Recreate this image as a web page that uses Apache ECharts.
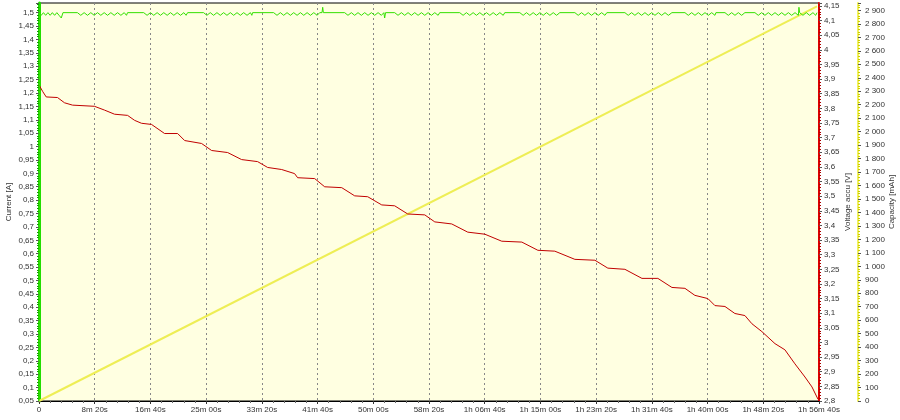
<!DOCTYPE html>
<html>
<head>
<meta charset="utf-8">
<script src="https://cdn.jsdelivr.net/npm/echarts@6/dist/echarts.min.js"></script>
<style>
html,body{margin:0;padding:0;background:#fff;}
#chart{width:900px;height:420px;}
</style>
</head>
<body>
<div id="chart"></div>
<script>
// ---- Data (time in seconds) ----
const xTickLabels = ["0","8m 20s","16m 40s","25m 00s","33m 20s","41m 40s","50m 00s","58m 20s",
  "1h 06m 40s","1h 15m 00s","1h 23m 20s","1h 31m 40s","1h 40m 00s","1h 48m 20s","1h 56m 40s"];

// Voltage accu [V]
const voltTime = [0,34,65,166,229,301,498,588,678,795,858,920,1010,1127,1244,1307,1459,1549,1693,1818,1962,2052,2178,2294,2321,2474,2564,2717,2833,2950,3076,3192,3309,3462,3552,3704,3848,4001,4153,4333,4477,4629,4809,4989,5105,5258,5411,5554,5680,5797,5886,6003,6066,6156,6245,6335,6398,6488,6605,6694,6784,6874,6937,6991];
const voltValue = [3.880,3.857,3.839,3.837,3.819,3.811,3.807,3.794,3.780,3.776,3.759,3.749,3.745,3.714,3.714,3.690,3.680,3.656,3.649,3.625,3.618,3.598,3.591,3.577,3.563,3.560,3.532,3.529,3.501,3.498,3.470,3.467,3.439,3.436,3.412,3.405,3.377,3.370,3.346,3.343,3.315,3.312,3.284,3.281,3.254,3.250,3.219,3.219,3.188,3.185,3.161,3.150,3.126,3.123,3.099,3.092,3.064,3.037,2.996,2.975,2.927,2.882,2.848,2.806];

// Capacity [mAh]
const capTime = [0, 6982];
const capValue = [0, 2930];

// Current [A] as [time, value]
const currentData = [
 [0,0.05],[4,1.5],
 [20,1.49],[40,1.5],[60,1.49],[80,1.5],[100,1.49],[120,1.5],[140,1.49],[160,1.5],[180,1.49],[200,1.48],[215,1.5],
 [345,1.5],
 [375,1.49],[405,1.5],[435,1.49],[465,1.5],[495,1.49],[525,1.5],[555,1.49],[585,1.5],[615,1.49],[645,1.5],[675,1.49],[705,1.5],[735,1.49],[765,1.5],[785,1.49],[795,1.5],
 [940,1.5],
 [970,1.49],[1000,1.5],[1030,1.49],[1060,1.5],[1090,1.49],[1120,1.5],[1150,1.49],[1180,1.5],[1210,1.49],[1240,1.5],[1270,1.49],[1300,1.5],[1320,1.49],[1334,1.5],
 [1477,1.5],
 [1507,1.49],[1537,1.5],[1567,1.49],[1597,1.5],[1627,1.49],[1657,1.5],[1687,1.49],[1717,1.5],[1747,1.49],[1777,1.5],[1807,1.49],[1837,1.5],[1867,1.49],[1897,1.5],[1910,1.49],[1917,1.5],
 [2106,1.5],
 [2136,1.49],[2166,1.5],[2196,1.49],[2226,1.5],[2256,1.49],[2286,1.5],[2316,1.49],[2346,1.5],[2376,1.49],[2406,1.5],[2436,1.49],[2466,1.5],[2496,1.49],[2519,1.5],[2540,1.5],[2546,1.52],[2552,1.5],
 [2743,1.5],
 [2773,1.49],[2803,1.5],[2833,1.49],[2863,1.5],[2893,1.49],[2923,1.5],[2953,1.49],[2983,1.5],[3013,1.49],[3043,1.5],[3073,1.49],[3095,1.5],[3102,1.48],[3110,1.5],
 [3192,1.5],
 [3222,1.49],[3252,1.5],[3282,1.49],[3312,1.5],[3342,1.49],[3372,1.5],[3402,1.49],[3432,1.5],[3462,1.49],[3492,1.5],[3522,1.49],[3552,1.5],[3582,1.49],[3596,1.5],
 [3776,1.5],
 [3806,1.49],[3836,1.5],[3866,1.49],[3896,1.5],[3926,1.49],[3956,1.5],[3986,1.49],[4016,1.5],[4046,1.49],[4076,1.5],[4106,1.49],[4136,1.5],[4166,1.49],[4180,1.5],
 [4315,1.5],
 [4345,1.49],[4375,1.5],[4405,1.49],[4435,1.5],[4465,1.49],[4495,1.5],[4525,1.49],[4555,1.5],[4585,1.49],[4615,1.5],[4645,1.49],[4674,1.5],
 [4809,1.5],
 [4839,1.49],[4869,1.5],[4899,1.49],[4929,1.5],[4959,1.49],[4989,1.5],[5019,1.49],[5049,1.5],[5079,1.49],[5096,1.5],
 [5258,1.5],
 [5288,1.49],[5318,1.5],[5348,1.49],[5378,1.5],[5408,1.49],[5438,1.5],[5468,1.49],[5498,1.5],[5528,1.49],[5558,1.5],[5588,1.49],[5618,1.5],[5648,1.49],[5680,1.5],
 [5797,1.5],
 [5827,1.49],[5857,1.5],[5887,1.49],[5917,1.5],[5947,1.49],[5977,1.5],[6007,1.49],[6037,1.5],[6066,1.49],[6075,1.5],
 [6156,1.5],
 [6186,1.49],[6216,1.5],[6246,1.49],[6276,1.5],[6306,1.49],[6335,1.5],
 [6425,1.5],
 [6455,1.49],[6485,1.5],[6515,1.49],[6545,1.5],[6575,1.49],[6605,1.5],[6635,1.49],[6665,1.5],[6695,1.49],[6725,1.5],[6755,1.49],[6785,1.5],[6815,1.49],[6820,1.52],[6826,1.5],[6856,1.49],[6886,1.5],[6916,1.49],[6946,1.5],[6970,1.49],[6982,1.5]
];

// ---- Chart ----
const FONT = "'Liberation Sans', Arial, sans-serif";
const LABEL_COLOR = '#333';
function comma(v){ return String(Math.round(v*100)/100).replace('.', ','); }
function capFmt(v){
  v = Math.round(v);
  if (v >= 1000) { const r = v % 1000; return Math.floor(v/1000) + ' ' + String(r).padStart(3,'0'); }
  return String(v);
}
function timeFmt(v){
  const i = Math.round(v/500);
  return xTickLabels[i] !== undefined ? xTickLabels[i] : '';
}
const voltPairs = voltTime.map((t,i)=>[t, voltValue[i]]);
const capPairs = capTime.map((t,i)=>[t, capValue[i]]);

const chart = echarts.init(document.getElementById('chart'), null, {renderer:'canvas'});
chart.setOption({
  animation: false,
  backgroundColor: '#ffffff',
  textStyle: {fontFamily: FONT},
  grid: {left: 39, right: 81, top: 3, bottom: 19, containLabel: false, outerBoundsMode: 'none',
         show: true, backgroundColor: '#ffffe1', borderColor: '#000', borderWidth: 1},
  xAxis: {
    type: 'value', min: 0, max: 7000, interval: 500,
    axisLine: {show: true, lineStyle: {color: '#000', width: 1}},
    axisTick: {show: true, length: 3, lineStyle: {color: '#333'}},
    minorTick: {show: true, splitNumber: 5, length: 2, lineStyle: {color: '#666'}},
    splitLine: {show: true, lineStyle: {color: '#888', type: [2,3], width: 1}},
    axisLabel: {formatter: timeFmt, fontSize: 8, color: LABEL_COLOR, margin: 5, fontFamily: FONT}
  },
  yAxis: [
    {
      type: 'value', name: 'Current [A]', nameLocation: 'middle', nameGap: 26, nameRotate: 90, nameMoveOverlap: false,
      nameTextStyle: {fontSize: 8, color: LABEL_COLOR, fontFamily: FONT},
      min: 0.05, max: 1.536, interval: 0.05, position: 'left',
      axisLine: {show: true, lineStyle: {color: '#22dd00', width: 3}},
      axisTick: {show: true, length: 3, lineStyle: {color: '#555'}},
      minorTick: {show: true, splitNumber: 5, length: 2, lineStyle: {color: '#119900'}},
      splitLine: {show: false},
      axisLabel: {formatter: comma, fontSize: 8, color: LABEL_COLOR, margin: 5, showMaxLabel: false, fontFamily: FONT}
    },
    {
      type: 'value', name: 'Voltage accu [V]', nameLocation: 'middle', nameGap: 25, nameRotate: 90, nameMoveOverlap: false,
      nameTextStyle: {fontSize: 8, color: LABEL_COLOR, fontFamily: FONT},
      min: 2.8, max: 4.16, interval: 0.05, position: 'right', offset: 0,
      axisLine: {show: true, lineStyle: {color: '#dd0000', width: 2}},
      axisTick: {show: true, length: 3, lineStyle: {color: '#555'}},
      minorTick: {show: true, splitNumber: 5, length: 2, lineStyle: {color: '#aa0000'}},
      splitLine: {show: false},
      axisLabel: {formatter: comma, fontSize: 8, color: LABEL_COLOR, margin: 5, showMaxLabel: false, fontFamily: FONT}
    },
    {
      type: 'value', name: 'Capacity [mAh]', nameLocation: 'middle', nameGap: 30, nameRotate: 90, nameMoveOverlap: false,
      nameTextStyle: {fontSize: 8, color: LABEL_COLOR, fontFamily: FONT},
      min: 0, max: 2955, interval: 100, position: 'right', offset: 39,
      axisLine: {show: true, lineStyle: {color: '#f2f260', width: 2}},
      axisTick: {show: true, length: 3, lineStyle: {color: '#555'}},
      minorTick: {show: true, splitNumber: 5, length: 2, lineStyle: {color: '#cccc00'}},
      splitLine: {show: false},
      axisLabel: {formatter: capFmt, fontSize: 8, color: LABEL_COLOR, margin: 7, showMaxLabel: false, fontFamily: FONT}
    }
  ],
  series: [
    {type: 'line', name: 'Capacity', yAxisIndex: 2, data: capPairs, showSymbol: false, symbol: 'none',
     lineStyle: {color: '#eeee55', width: 2}, z: 2},
    {type: 'line', name: 'Voltage', yAxisIndex: 1, data: voltPairs, showSymbol: false, symbol: 'none',
     lineStyle: {color: '#c00000', width: 1}, z: 3},
    {type: 'line', name: 'Current', yAxisIndex: 0, data: currentData, showSymbol: false, symbol: 'none',
     lineStyle: {color: '#33e000', width: 1}, z: 4}
  ]
});
</script>
</body>
</html>
